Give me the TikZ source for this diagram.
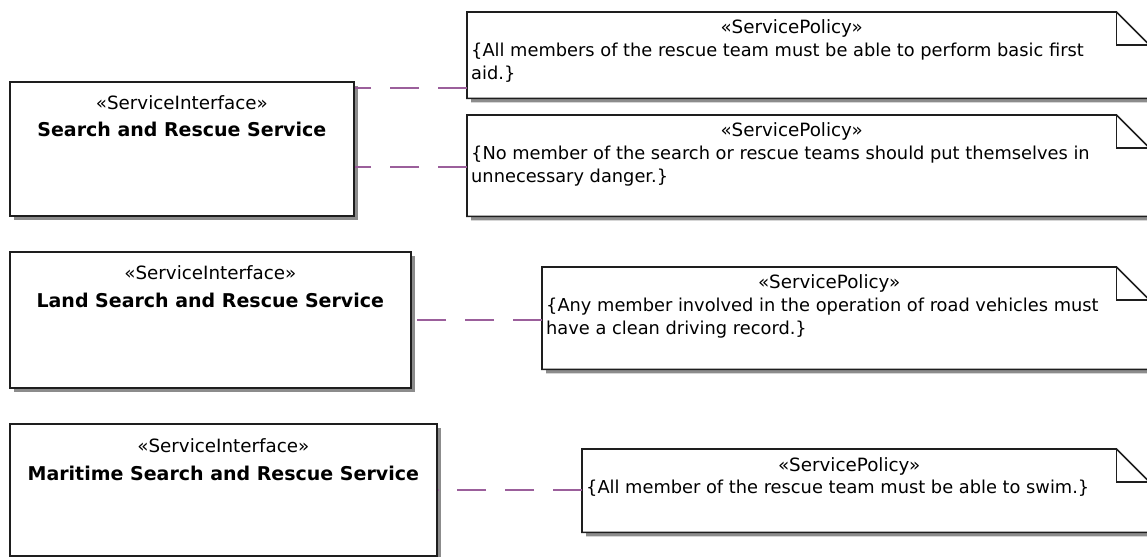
\documentclass[tikz,border=0pt]{standalone}
\usepackage{fontspec}
\setmainfont{DejaVu Sans}
\usetikzlibrary{calc,shadows}
\definecolor{linecol}{RGB}{30,30,30}
\definecolor{shadecol}{RGB}{140,140,140}
\definecolor{conncol}{RGB}{155,95,155}
\newcommand\drawnote[1]{%
  \path[noteline] (#1.south west) -- (#1.north west) -- ($(#1.north east)+(-33,0)$) -- ($(#1.north east)+(0,33)$) -- (#1.south east) -- cycle;
  \path[foldline] ($(#1.north east)+(-33,0)$) |- ($(#1.north east)+(0,33)$);
}
\begin{document}
\begin{tikzpicture}[x=1bp,y=-1bp,
  shadowed/.style={drop shadow={shadow xshift=4bp,shadow yshift=-4bp,fill=shadecol,opacity=1}},
  ifbox/.style={draw=linecol,line width=1.6bp,fill=white,shadowed,inner sep=0pt,anchor=north west},
  notearea/.style={inner sep=0pt,anchor=north west},
  noteline/.style={draw=linecol,line width=1.6bp,fill=white,shadowed},
  foldline/.style={draw=linecol,line width=1.6bp},
  stereo/.style={inner sep=0pt,anchor=base,font=\fontsize{18.3bp}{22bp}\selectfont},
  bodytext/.style={inner sep=0pt,anchor=base west,font=\fontsize{17.8bp}{21bp}\selectfont},
  nametext/.style={inner sep=0pt,anchor=base,font=\fontsize{19bp}{23bp}\selectfont\bfseries},
  conn/.style={draw=conncol,line width=1.5bp,dash pattern=on 29bp off 19bp}
]
\fill[white] (0,0) rectangle (1147,557);
\useasboundingbox (0,0) rectangle (1147,557);

% interface boxes
\node[ifbox,minimum width=344bp,minimum height=134bp] (s1) at (9,81) {};
\node[ifbox,minimum width=401bp,minimum height=136bp] (s2) at (9,251) {};
\node[ifbox,minimum width=427bp,minimum height=132bp] (s3) at (9,423) {};

\node[stereo] (s1st) at ($(s1.north)+(0,29)$) {«ServiceInterface»};
\node[nametext] (s1nm) at ($(s1.north)+(0,56)$) {Search and Rescue Service};
\node[stereo] (s2st) at ($(s2.north)+(0,29)$) {«ServiceInterface»};
\node[nametext] (s2nm) at ($(s2.north)+(0,57)$) {Land Search and Rescue Service};
\node[stereo] (s3st) at ($(s3.north)+(0,29)$) {«ServiceInterface»};
\node[nametext] (s3nm) at ($(s3.north)+(0,57)$) {Maritime Search and Rescue Service};

% policy notes
\node[notearea,minimum width=682bp,minimum height=86bp] (p1) at (467,12) {};
\node[notearea,minimum width=682bp,minimum height=101bp] (p2) at (467,115) {};
\node[notearea,minimum width=607bp,minimum height=102bp] (p3) at (542,267) {};
\node[notearea,minimum width=567bp,minimum height=83bp] (p4) at (582,449) {};
\drawnote{p1}
\drawnote{p2}
\drawnote{p3}
\drawnote{p4}

\node[stereo] (p1st) at ($(p1.north)+(-16.5,22)$) {«ServicePolicy»};
\node[bodytext] (p1a) at ($(p1.north west)+(4,45)$) {\{All members of the rescue team must be able to perform basic first};
\node[bodytext] (p1b) at ($(p1.north west)+(4,68)$) {aid.\}};

\node[stereo] (p2st) at ($(p2.north)+(-16.5,22)$) {«ServicePolicy»};
\node[bodytext] (p2a) at ($(p2.north west)+(4,45)$) {\{No member of the search or rescue teams should put themselves in};
\node[bodytext] (p2b) at ($(p2.north west)+(4,68)$) {unnecessary danger.\}};

\node[stereo] (p3st) at ($(p3.north)+(-16.5,22)$) {«ServicePolicy»};
\node[bodytext] (p3a) at ($(p3.north west)+(4,45)$) {\{Any member involved in the operation of road vehicles must};
\node[bodytext] (p3b) at ($(p3.north west)+(4,68)$) {have a clean driving record.\}};

\node[stereo] (p4st) at ($(p4.north)+(-16.5,22)$) {«ServicePolicy»};
\node[bodytext] (p4a) at ($(p4.north west)+(4,44)$) {\{All member of the rescue team must be able to swim.\}};

% connectors
\coordinate (y1) at (0,88);
\coordinate (y2) at (0,167);
\coordinate (y3) at (0,320);
\coordinate (y4) at (0,490);
\draw[conn] (p1.west |- y1) -- (s1.east |- y1);
\draw[conn] (p2.west |- y2) -- (s1.east |- y2);
\draw[conn] (p3.west |- y3) -- (s2.east |- y3);
\draw[conn] (p4.west |- y4) -- (s3.east |- y4);
\end{tikzpicture}
\end{document}
